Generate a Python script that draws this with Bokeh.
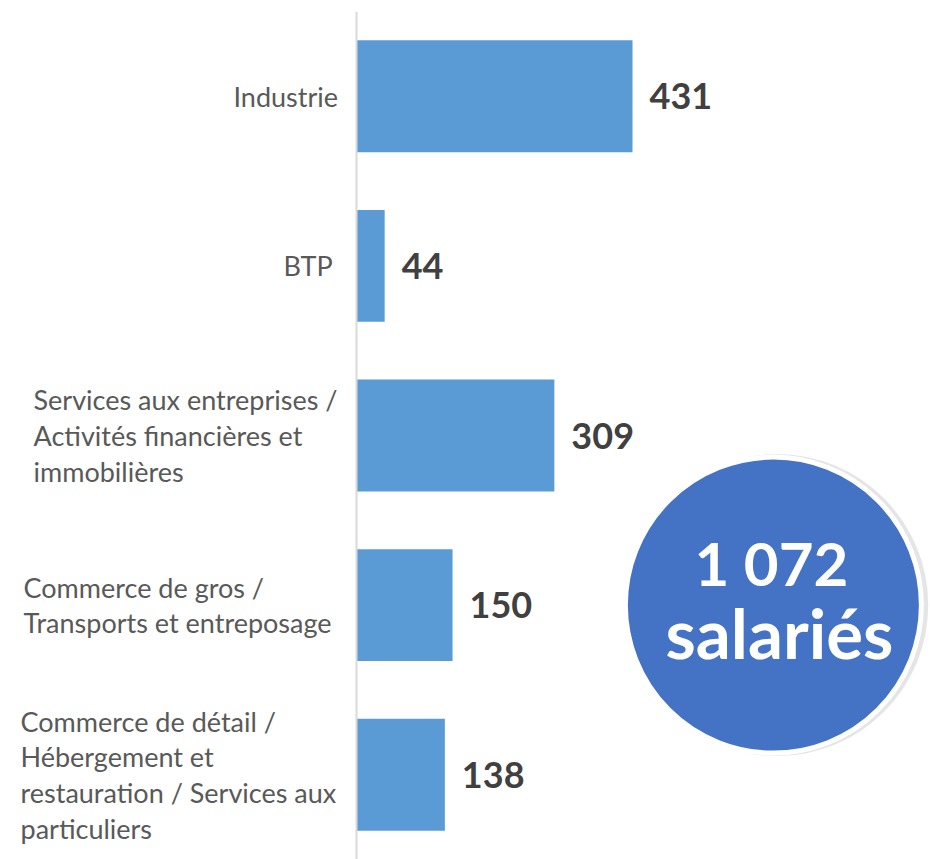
from bokeh.plotting import figure
from bokeh.models import Range1d, FactorRange, Span, ColumnDataSource
from bokeh.core.properties import value
from bokeh.embed import file_html
from bokeh.resources import INLINE

# ---- data ----
categories = [
    "Industrie",
    "BTP",
    "Services aux entreprises /\nActivités financières et\nimmobilières",
    "Commerce de gros /\nTransports et entreposage",
    "Commerce de détail /\nHébergement et\nrestauration / Services aux\nparticuliers",
]
values = [431, 44, 309, 150, 138]
total_value = "1 072"
total_unit = "salariés"

# ---- styles ----
label_offsets = [-123, -73, -323, -333, -336]
bar_color = "#5B9BD5"
label_color = "#595959"
value_color = "#404040"
circle_color = "#4472C4"

W, H = 930, 859
axis_px = 356
px_per_unit = 276 / 431

p = figure(
    width=W, height=H,
    x_range=Range1d(-axis_px / px_per_unit, (W - axis_px) / px_per_unit),
    y_range=FactorRange(factors=list(reversed(categories))),
    output_backend="svg", toolbar_location=None,
    x_axis_location=None, y_axis_location=None,
    min_border=0, min_border_left=0, min_border_right=0,
    min_border_top=11, min_border_bottom=0,
)
p.outline_line_color = None
p.xgrid.visible = False
p.ygrid.visible = False
p.background_fill_color = "white"
p.border_fill_color = "white"

src = ColumnDataSource(dict(
    cat=categories, val=values, lab=[str(v) for v in values],
    off=label_offsets,
))

p.hbar(y="cat", right="val", left=0, height=0.66, source=src,
       fill_color=bar_color, line_color=None)

p.add_layout(Span(location=0, dimension="height", line_color="#d9d9d9", line_width=2))

p.text(x=0, y="cat", text="cat", x_offset="off", source=src,
       text_align="left", text_baseline="middle",
       text_font=value("Lato"), text_font_size="27px", text_color=label_color,
       text_line_height=1.08)

p.text(x="val", y="cat", text="lab", x_offset=17, y_offset=0, source=src,
       text_align="left", text_baseline="middle",
       text_font=value("Lato"), text_font_size="36px", text_font_style="bold",
       text_color=value_color)

# total badge
cy = categories[3]
cx = 651
p.scatter(x=[cx + 6], y=[cy], size=302, marker="circle",
          fill_color="#a8a8a8", fill_alpha=0.3, line_color=None)
p.scatter(x=[cx], y=[cy], size=296, marker="circle",
          fill_color=circle_color, line_color="white", line_width=5)
p.text(x=[cx], y=[cy], text=[total_value], y_offset=-42, x_offset=-2,
       text_align="center", text_baseline="middle",
       text_font=value("Lato"), text_font_size="60px", text_font_style="bold",
       text_color="white")
p.text(x=[cx], y=[cy], text=[total_unit], y_offset=27, x_offset=6,
       text_align="center", text_baseline="middle",
       text_font=value("Lato"), text_font_size="69px", text_font_style="bold",
       text_color="white")

open("out.html", "w").write(file_html(p, INLINE))
